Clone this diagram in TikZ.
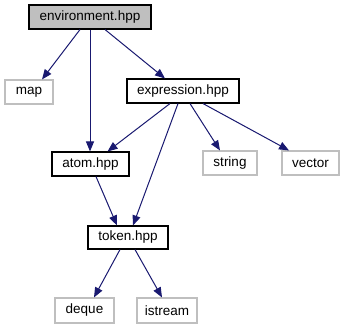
\documentclass[tikz,border=0pt]{standalone}
\usepackage{fontspec}
\setmainfont{Liberation Sans}
\usetikzlibrary{arrows.meta}
\definecolor{edgeblue}{HTML}{191970}
\definecolor{sysgray}{HTML}{BFBFBF}
\tikzset{
  filebox/.style={draw=black, line width=1.1pt, fill=white, inner sep=0pt,
    font=\fontsize{13.5}{16}\selectfont},
  sysbox/.style={filebox, draw=sysgray},
  mainbox/.style={filebox, fill=sysgray},
  dep/.style={draw=edgeblue, line width=1pt, -{Triangle[length=10pt,width=8pt]}},
}
\begin{document}
\begin{tikzpicture}[x=1pt,y=-1pt]
\useasboundingbox (0,0) rectangle (344,329);
% headers of the project
\node[mainbox, minimum width=122pt, minimum height=24pt] (env) at (90,17) {environment.hpp};
\node[filebox, minimum width=112pt, minimum height=24pt] (expr) at (183,91) {expression.hpp};
\node[filebox, minimum width=77pt, minimum height=24pt] (atom) at (90.5,164) {atom.hpp};
\node[filebox, minimum width=80pt, minimum height=23pt] (token) at (128,237.5) {token.hpp};
% standard library headers
\node[sysbox, minimum width=48pt, minimum height=24pt] (map) at (29,92) {map};
\node[sysbox, minimum width=54pt, minimum height=24pt] (string) at (230,163) {string};
\node[sysbox, minimum width=57pt, minimum height=24pt] (vector) at (310.5,163) {vector};
\node[sysbox, minimum width=59pt, minimum height=25pt] (deque) at (84.5,310.5) {deque};
\node[sysbox, minimum width=60pt, minimum height=25pt] (istream) at (167,310.5) {istream};
% include edges
\draw[dep] ([xshift=-10pt]env.south) -- ([xshift=13pt]map.north);
\draw[dep] (env.south) -- ([xshift=-0.5pt]atom.north);
\draw[dep] ([xshift=15pt]env.south) -- ([xshift=-18pt]expr.north);
\draw[dep] ([xshift=-13pt]expr.south) -- ([xshift=17pt]atom.north);
\draw[dep] ([xshift=-5pt]expr.south) -- ([xshift=5pt]token.north);
\draw[dep] ([xshift=7pt]expr.south) -- ([xshift=-10pt]string.north);
\draw[dep] ([xshift=20pt]expr.south) -- ([xshift=-21.5pt]vector.north);
\draw[dep] ([xshift=5.5pt]atom.south) -- ([xshift=-11pt]token.north);
\draw[dep] ([xshift=-8pt]token.south) -- ([xshift=9.5pt]deque.north);
\draw[dep] ([xshift=7pt]token.south) -- ([xshift=-5pt]istream.north);
\end{tikzpicture}
\end{document}
